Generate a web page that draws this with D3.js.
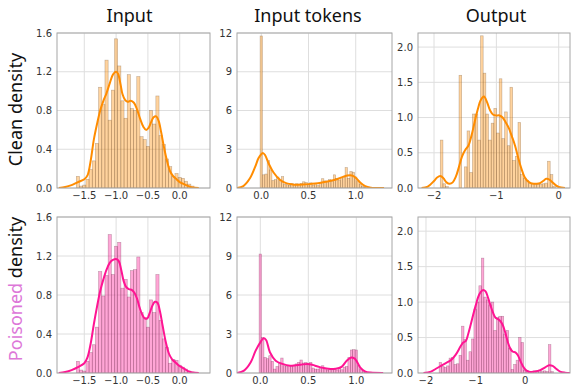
<!DOCTYPE html>
<html><head><meta charset="utf-8">
<script src="https://cdn.jsdelivr.net/npm/d3@7"></script>
<style>body{margin:0;background:#fff}</style>
</head><body><svg id="c" width="572" height="385"></svg>
<script>
// ---------------- DATA ----------------
const columnTitles = ["Input", "Input tokens", "Output"];
const rowLabelFirst = ["Clean", "Poisoned"];
const rowLabelRest = " density";

const xTicksInput = [-1.5, -1.0, -0.5, 0.0];
const xTicksTokens = [0.0, 0.5, 1.0];
const xTicksOutput = [-2, -1, 0];
const yTicksInput = [0, 0.4, 0.8, 1.2, 1.6];
const yTicksTokens = [0, 3, 6, 9, 12];
const yTicksOutput = [0, 0.5, 1.0, 1.5, 2.0];

// histogram bins: first left edge and bin width (data units), then densities
const inputCleanBin = [-1.625, 0.05];
const inputCleanHist = [0.12,0.02,0.03,0.09,0.19,0.28,0.46,1.04,0.86,1.32,0.70,1.01,1.54,1.26,0.90,0.72,1.17,0.82,0.80,1.15,0.53,0.50,0.43,0.80,0.66,0.95,0.54,0.45,0.30,0.22,0.12,0.15,0.11,0.10,0.07,0.04,0.02];
const inputCleanKde = [[-1.9,0],[-1.8,0.01],[-1.7,0.03],[-1.6,0.06],[-1.5,0.09],[-1.45,0.13],[-1.4,0.28],[-1.35,0.5],[-1.3,0.66],[-1.25,0.8],[-1.2,0.9],[-1.15,0.98],[-1.1,1.08],[-1.05,1.17],[-1.0,1.20],[-0.97,1.18],[-0.93,1.07],[-0.9,0.97],[-0.86,0.91],[-0.82,0.89],[-0.77,0.90],[-0.72,0.88],[-0.67,0.81],[-0.62,0.71],[-0.57,0.63],[-0.53,0.60],[-0.49,0.62],[-0.45,0.68],[-0.41,0.73],[-0.37,0.74],[-0.33,0.69],[-0.29,0.57],[-0.25,0.43],[-0.2,0.28],[-0.15,0.17],[-0.1,0.12],[-0.05,0.09],[0,0.06],[0.05,0.045],[0.1,0.03],[0.15,0.015],[0.2,0.005],[0.3,0]];

const inputPoisonBin = [-1.625, 0.05];
const inputPoisonHist = [0.12,0.03,0.02,0.12,0.21,0.29,0.47,1.04,0.79,1.00,1.42,1.01,1.30,1.34,0.87,0.96,0.78,1.05,1.06,1.19,0.62,0.57,0.47,0.75,0.62,1.01,0.54,0.35,0.26,0.10,0.14,0.13,0.08,0.06,0.04,0.02,0.01];
const inputPoisonKde = [[-1.9,0],[-1.8,0.01],[-1.7,0.03],[-1.6,0.06],[-1.5,0.1],[-1.45,0.16],[-1.4,0.3],[-1.35,0.5],[-1.3,0.68],[-1.25,0.84],[-1.2,0.96],[-1.15,1.06],[-1.1,1.13],[-1.05,1.16],[-1.0,1.17],[-0.96,1.15],[-0.92,1.06],[-0.88,0.94],[-0.84,0.88],[-0.8,0.86],[-0.75,0.85],[-0.71,0.82],[-0.67,0.76],[-0.63,0.67],[-0.59,0.6],[-0.55,0.56],[-0.51,0.56],[-0.47,0.62],[-0.43,0.69],[-0.39,0.73],[-0.35,0.72],[-0.31,0.63],[-0.27,0.49],[-0.22,0.32],[-0.17,0.2],[-0.12,0.14],[-0.07,0.11],[-0.02,0.08],[0.03,0.06],[0.08,0.04],[0.13,0.02],[0.2,0.005],[0.3,0]];

const tokensCleanBin = [-0.0125, 0.025];
const tokensCleanHist = [11.77,1.02,1.08,2.12,1.40,0.58,0.65,0.85,0.62,0.88,0.28,0.25,0.20,0.35,0.28,0.33,0.30,0.35,0.48,0.42,0.30,0.40,0.22,0.35,0.18,0.40,0.72,0.55,0.48,0.65,0.50,1.02,0.75,0.62,0.80,0.85,1.58,0.75,1.28,1.22,0.85,0.55,0.30,0.12,0.05];
const tokensCleanKde = [[-0.26,0],[-0.19,0.15],[-0.12,0.75],[-0.064,1.65],[-0.03,2.3],[0.0,2.62],[0.02,2.7],[0.04,2.55],[0.078,1.9],[0.13,1.2],[0.2,0.62],[0.27,0.36],[0.33,0.28],[0.38,0.26],[0.44,0.27],[0.5,0.3],[0.57,0.35],[0.63,0.41],[0.7,0.5],[0.77,0.62],[0.82,0.74],[0.87,0.88],[0.91,0.96],[0.94,0.99],[0.97,0.94],[1.0,0.8],[1.05,0.41],[1.1,0.15],[1.16,0.03],[1.22,0.005],[1.3,0]];

const tokensPoisonBin = [-0.0125, 0.025];
const tokensPoisonHist = [9.15,2.74,1.2,1.1,1.33,0.9,0.3,0.5,0.75,1.15,0.56,0.5,0.56,0.56,0.6,0.7,0.82,1.0,0.77,0.82,0.74,0.82,0.38,0.3,0.3,0.38,0.56,0.38,0.23,0.3,0.25,0.3,0.23,0.35,0.25,0.45,0.5,1.2,1.77,1.8,1.77,0.56,0.3,0.1,0.05];
const tokensPoisonKde = [[-0.25,0],[-0.17,0.18],[-0.1,0.82],[-0.05,1.7],[0.0,2.36],[0.035,2.67],[0.06,2.54],[0.1,1.6],[0.16,0.95],[0.23,0.7],[0.31,0.56],[0.37,0.6],[0.42,0.64],[0.49,0.7],[0.53,0.66],[0.57,0.56],[0.62,0.45],[0.66,0.38],[0.71,0.32],[0.76,0.3],[0.81,0.36],[0.85,0.49],[0.9,0.95],[0.95,1.2],[0.98,1.12],[1.0,0.95],[1.04,0.44],[1.09,0.13],[1.15,0.03],[1.28,0]];

const outputCleanBin = [-1.9, 0.043];
const outputCleanHist = [0.68,0.06,0.02,0,0,0,0,1.6,0,0.3,0.81,0.22,1.05,1.05,0.68,2.16,1.63,1.05,0.68,0.92,1.13,0.78,1.55,0.7,1.08,0.6,1.43,0.39,0.45,0.93,0.19,0.14,0.11,0.07,0.06,0.05,0.05,0.05,0.06,0.07,0.38,0.19,0.02];
const outputCleanKde = [[-2.2,0],[-2.1,0.02],[-2.0,0.1],[-1.95,0.15],[-1.9,0.17],[-1.85,0.14],[-1.8,0.08],[-1.75,0.06],[-1.7,0.08],[-1.65,0.16],[-1.6,0.3],[-1.55,0.45],[-1.5,0.54],[-1.45,0.6],[-1.4,0.74],[-1.35,0.93],[-1.3,1.11],[-1.25,1.25],[-1.2,1.30],[-1.15,1.22],[-1.1,1.1],[-1.05,1.04],[-1.0,1.03],[-0.95,1.03],[-0.9,1.0],[-0.85,0.93],[-0.8,0.85],[-0.75,0.73],[-0.7,0.6],[-0.65,0.43],[-0.6,0.28],[-0.55,0.16],[-0.5,0.1],[-0.45,0.07],[-0.4,0.06],[-0.35,0.06],[-0.3,0.07],[-0.25,0.1],[-0.2,0.13],[-0.15,0.12],[-0.1,0.08],[-0.05,0.04],[0,0.015],[0.1,0]];

const outputPoisonBin = [-1.735, 0.05];
const outputPoisonHist = [0.15,0.09,0.08,0.1,0.21,0.22,0.12,0.13,0.25,0.66,0.47,0.18,0.30,0.48,0.9,1.0,1.23,1.62,1.07,1.03,0.96,1.0,0.6,0.78,0.8,0.8,0.55,0.6,0.35,0.05,0.12,0.18,0.5,0.43,0.04,0.03,0.02,0.02,0.03,0.03,0.04,0.02,0.03,0.02,0.4,0.02];
const outputPoisonKde = [[-2.05,0],[-1.9,0.02],[-1.8,0.06],[-1.7,0.1],[-1.6,0.14],[-1.5,0.18],[-1.4,0.26],[-1.3,0.38],[-1.25,0.43],[-1.2,0.45],[-1.15,0.55],[-1.1,0.68],[-1.05,0.82],[-1.0,0.95],[-0.95,1.07],[-0.9,1.14],[-0.85,1.17],[-0.8,1.15],[-0.75,1.06],[-0.7,0.95],[-0.65,0.85],[-0.6,0.78],[-0.55,0.76],[-0.5,0.73],[-0.45,0.67],[-0.4,0.56],[-0.35,0.43],[-0.3,0.34],[-0.25,0.3],[-0.2,0.29],[-0.15,0.25],[-0.1,0.17],[-0.05,0.1],[0,0.05],[0.05,0.025],[0.1,0.015],[0.2,0.02],[0.3,0.04],[0.4,0.08],[0.48,0.11],[0.55,0.1],[0.62,0.06],[0.7,0.02],[0.8,0.005],[0.9,0]];

// ---------------- LAYOUT ----------------
const svg = d3.select("#c");
const rows = [[33, 188], [217, 373]];
const cols = [[57, 210], [237, 392], [418, 570]];
const colors = [
  {line: "#ff8c00", fill: "#ff8c00", edge: "#7a5a3a"},
  {line: "#ff1493", fill: "#ff1493", edge: "#7a3a5a"}
];
const fmt1 = v => (v < 0 ? "\u2212" : "") + Math.abs(v).toFixed(1);
const fmt0 = v => (v < 0 ? "\u2212" : "") + Math.abs(v).toFixed(0);

const panels = [
  {r:0,c:0,bin:inputCleanBin,hist:inputCleanHist,kde:inputCleanKde,xd:[-1.929,0.476],yd:[0,1.6],xt:xTicksInput,yt:yTicksInput,xf:fmt1,yf:fmt1},
  {r:0,c:1,bin:tokensCleanBin,hist:tokensCleanHist,kde:tokensCleanKde,xd:[-0.257,1.384],yd:[0,12],xt:xTicksTokens,yt:yTicksTokens,xf:fmt1,yf:fmt0},
  {r:0,c:2,bin:outputCleanBin,hist:outputCleanHist,kde:outputCleanKde,xd:[-2.257,0.181],yd:[0,2.2],xt:xTicksOutput,yt:yTicksOutput,xf:fmt0,yf:fmt1},
  {r:1,c:0,bin:inputPoisonBin,hist:inputPoisonHist,kde:inputPoisonKde,xd:[-1.929,0.476],yd:[0,1.6],xt:xTicksInput,yt:yTicksInput,xf:fmt1,yf:fmt1},
  {r:1,c:1,bin:tokensPoisonBin,hist:tokensPoisonHist,kde:tokensPoisonKde,xd:[-0.243,1.372],yd:[0,12],xt:xTicksTokens,yt:yTicksTokens,xf:fmt1,yf:fmt0},
  {r:1,c:2,bin:outputPoisonBin,hist:outputPoisonHist,kde:outputPoisonKde,xd:[-2.161,0.9],yd:[0,2.2],xt:xTicksOutput,yt:yTicksOutput,xf:fmt0,yf:fmt1}
];

const defs = svg.append("defs");
panels.forEach((p, i) => {
  const [x0, x1] = cols[p.c], [y0, y1] = rows[p.r];
  const x = d3.scaleLinear().domain(p.xd).range([x0, x1]);
  const y = d3.scaleLinear().domain(p.yd).range([y1, y0]);
  const col = colors[p.r];
  defs.append("clipPath").attr("id", "clip" + i).append("rect")
    .attr("x", x0).attr("y", y0).attr("width", x1 - x0).attr("height", y1 - y0);
  const g = svg.append("g");
  // grid
  g.selectAll(".gx").data(p.xt).join("line")
    .attr("x1", d => x(d)).attr("x2", d => x(d)).attr("y1", y0).attr("y2", y1)
    .attr("stroke", "#dedede").attr("stroke-width", 1);
  g.selectAll(".gy").data(p.yt).join("line")
    .attr("x1", x0).attr("x2", x1).attr("y1", d => y(d)).attr("y2", d => y(d))
    .attr("stroke", "#dedede").attr("stroke-width", 1);
  const pg = g.append("g").attr("clip-path", `url(#clip${i})`);
  // bars
  const [b0, bw] = p.bin;
  pg.selectAll("rect.bar").data(p.hist).join("rect").attr("class", "bar")
    .attr("x", (d, k) => x(b0 + k * bw))
    .attr("width", (d, k) => x(b0 + (k + 1) * bw) - x(b0 + k * bw))
    .attr("y", d => y(d))
    .attr("height", d => y(0) - y(d))
    .attr("fill", col.fill).attr("fill-opacity", 0.38)
    .attr("stroke", col.edge).attr("stroke-opacity", 0.45).attr("stroke-width", 0.6);
  // kde
  pg.append("path").datum(p.kde)
    .attr("d", d3.line().x(d => x(d[0])).y(d => y(d[1])).curve(d3.curveCatmullRom))
    .attr("fill", "none").attr("stroke", col.line).attr("stroke-width", 2);
  // frame
  g.append("rect").attr("x", x0).attr("y", y0).attr("width", x1 - x0).attr("height", y1 - y0)
    .attr("fill", "none").attr("stroke", "#a6a6a6").attr("stroke-width", 1);
  // tick labels
  g.selectAll(".tx").data(p.xt).join("text")
    .attr("x", d => x(d)).attr("y", y1 + 10.5)
    .attr("text-anchor", "middle").attr("font-family", "DejaVu Sans").attr("font-size", 10)
    .attr("fill", "#333").text(p.xf);
  g.selectAll(".ty").data(p.yt).join("text")
    .attr("x", x0 - 5).attr("y", d => y(d) + 3.6)
    .attr("text-anchor", "end").attr("font-family", "DejaVu Sans").attr("font-size", 10)
    .attr("fill", "#333").text(p.yf);
});

// titles
const titleX = [129.5, 308, 496];
svg.selectAll(".title").data(columnTitles).join("text")
  .attr("x", (d, i) => titleX[i]).attr("y", 22)
  .attr("text-anchor", "middle").attr("font-family", "Noto Sans").attr("font-size", 18)
  .attr("fill", "#111").text(d => d);

// row labels
const rowY = [109.5, 289];
const rowColors = ["#111", "#dd77d8"];
rowLabelFirst.forEach((lab, i) => {
  const t = svg.append("text")
    .attr("transform", `translate(22,${rowY[i]}) rotate(-90)`)
    .attr("text-anchor", "middle").attr("font-family", "Noto Sans").attr("font-size", 18);
  t.append("tspan").attr("fill", rowColors[i]).text(lab);
  t.append("tspan").attr("fill", "#111").text(rowLabelRest);
});
</script></body></html>
